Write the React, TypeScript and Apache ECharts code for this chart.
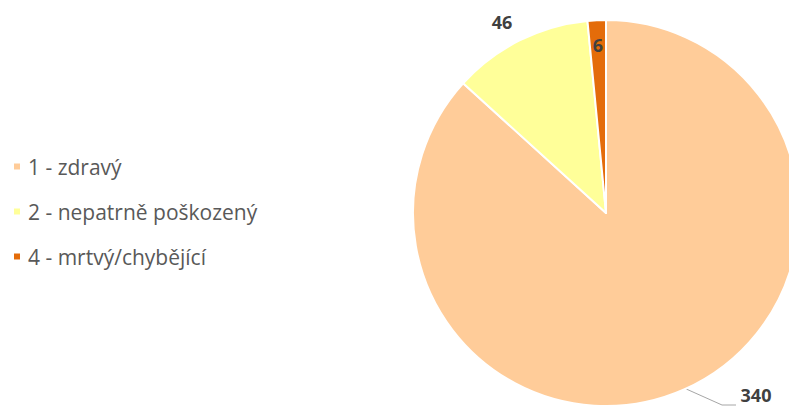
import React, { useEffect, useRef } from "react";
import * as echarts from "echarts";

const categories = ["1 - zdravý", "2 - nepatrně poškozený", "4 - mrtvý/chybějící"];
const values = [340, 46, 6];
const colors = ["#FFCC99", "#FFFF99", "#E46C0A"];

export default function App() {
  const ref = useRef<HTMLDivElement>(null);
  useEffect(() => {
    const chart = echarts.init(ref.current!, undefined, { renderer: "svg" });
    const data = categories.map((name, i) => {
      const item: any = { name, value: values[i], itemStyle: { color: colors[i] } };
      if (i === 0) {
        item.label = { position: "outside" };
        item.labelLine = { show: true, length: 28, length2: 12, lineStyle: { color: "#A6A6A6", width: 1 } };
      } else if (i === 1) {
        item.label = { position: "outside" };
        item.labelLine = { show: false, length: 8, length2: 0 };
      } else {
        item.label = { position: "inside" };
        item.labelLine = { show: false };
      }
      return item;
    });
    chart.setOption({
      animation: false,
      backgroundColor: "#ffffff",
      legend: {
        orient: "vertical",
        left: 7,
        top: 151,
        icon: "rect",
        itemWidth: 8,
        itemHeight: 8,
        itemGap: 24,
        data: categories,
        textStyle: { fontFamily: "Open Sans", fontSize: 21, color: "#595959", padding: [0, 0, 0, 2] },
      },
      series: [
        {
          type: "pie",
          center: [606, 213],
          radius: 193,
          startAngle: 90,
          clockwise: true,
          avoidLabelOverlap: false,
          itemStyle: { borderColor: "#ffffff", borderWidth: 2 },
          label: {
            show: true,
            formatter: "{c}",
            fontFamily: "Open Sans",
            fontSize: 18,
            fontWeight: "bold",
            color: "#404040",
          },
          labelLayout: (params: any) => {
            if (params.dataIndex === 2) {
              return { x: 598, y: 45, align: "center", verticalAlign: "middle" };
            }
            if (params.dataIndex === 1) {
              return { x: 502, y: 22, align: "center", verticalAlign: "middle" };
            }
            return {
              x: 756,
              y: 395,
              align: "center",
              verticalAlign: "middle",
              labelLinePoints: [
                [684, 388],
                [722, 405],
                [736, 405],
              ],
            };
          },
          data,
        },
      ],
    });
    return () => chart.dispose();
  }, []);
  return (
    <div
      ref={ref}
      style={{ position: "absolute", left: 0, top: 0, width: 789, height: 407 }}
    />
  );
}
